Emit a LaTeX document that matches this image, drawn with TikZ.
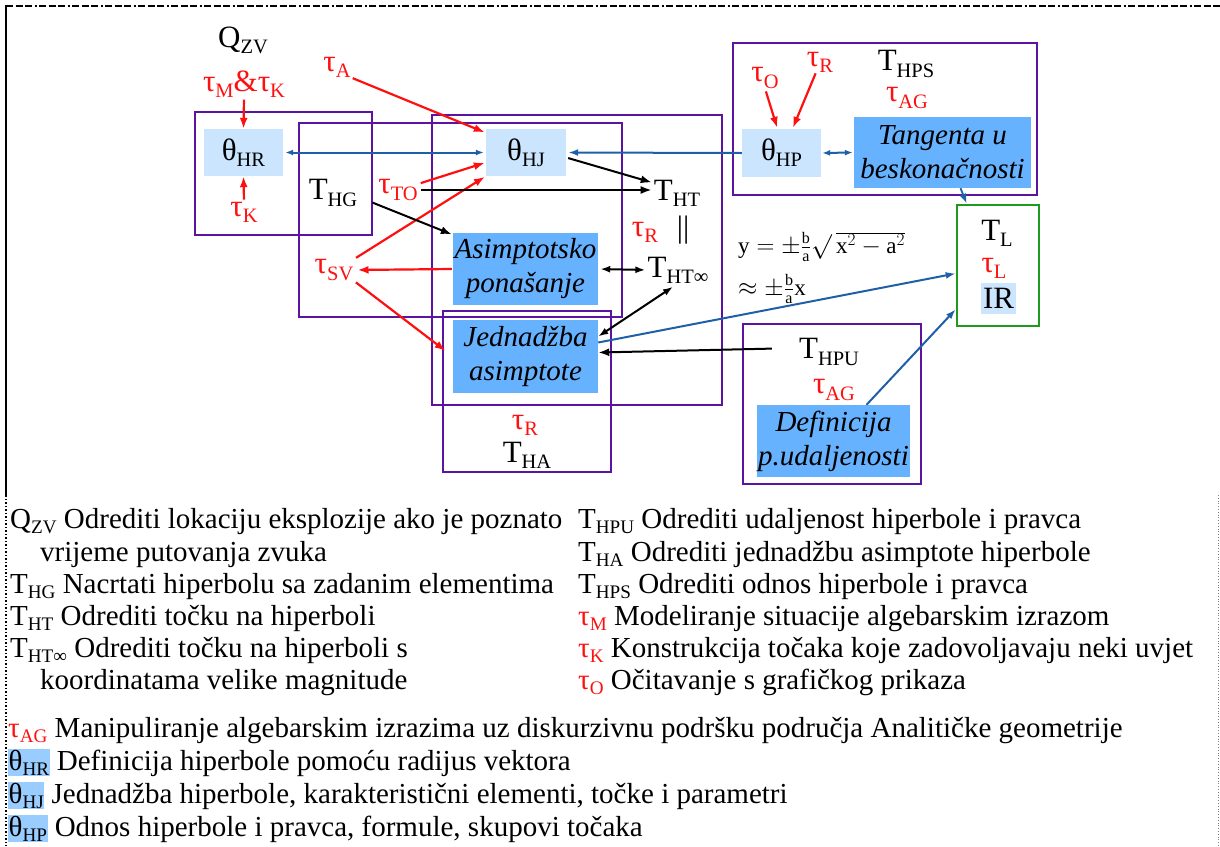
\documentclass[tikz,border=0pt]{standalone}
\usepackage{fontspec}
\setmainfont{Liberation Serif}
\usetikzlibrary{arrows.meta}
\definecolor{pur}{HTML}{5A14A0}
\definecolor{rd}{HTML}{FF1010}
\definecolor{bl}{HTML}{1F5FA8}
\definecolor{lfill}{HTML}{CCE5FF}
\definecolor{dfill}{HTML}{66B2FF}
\definecolor{grn}{HTML}{1E9A1E}
\definecolor{lgfill}{HTML}{99CCFF}
\newcommand{\lo}[1]{\raisebox{-0.2em}{\scalebox{0.66}{#1}}}
\tikzset{
 lbl/.style={inner sep=0pt, font=\fontsize{31}{33}\selectfont},
 rlbl/.style={lbl, text=rd},
 pbox/.style={draw=pur, line width=2.6pt},
 lf/.style={fill=lfill, inner sep=0pt, font=\fontsize{31}{33}\selectfont},
 df/.style={fill=dfill, inner sep=0pt, align=center, font=\fontsize{29}{34}\selectfont\itshape},
 rarr/.style={draw=rd, line width=2.2pt, -{Latex[length=11pt,width=8pt]}},
 barr/.style={draw=bl, line width=2pt, -{Latex[length=10pt,width=7pt]}},
 bl2/.style={draw=bl, line width=2pt, {Latex[length=8pt,width=6pt]}-{Latex[length=8pt,width=6pt]}},
 karr/.style={draw=black, line width=2pt, -{Latex[length=11pt,width=8pt]}},
 kar2/.style={draw=black, line width=2pt, {Latex[length=10pt,width=7pt]}-{Latex[length=10pt,width=7pt]}},
 leg/.style={inner sep=0pt, anchor=base west, font=\fontsize{29}{31}\selectfont},
 fml/.style={inner sep=0pt, anchor=west, font=\fontsize{23}{25}\selectfont},
}
\begin{document}
\begin{tikzpicture}[x=1pt,y=-1pt]
\useasboundingbox (0,0) rectangle (1220,846);
% frame
\draw[line width=2.2pt, dash pattern=on 7pt off 2.5pt on 7pt off 2.5pt on 7pt off 2.5pt on 2pt off 2.5pt] (6,6) -- (1220,6);
\draw[line width=2.8pt] (6,5) -- (6,495);
\draw[line width=1.5pt, dotted] (6,495) -- (6,846);
\draw[line width=0.8pt, dotted, gray] (1218,495) -- (1218,846);
% purple boxes
\draw[pbox] (195,112) rectangle (372,235);
\draw[pbox] (299,123) rectangle (622,317);
\draw[pbox] (432,115) rectangle (722,405);
\draw[pbox] (443,311) rectangle (611,472);
\draw[pbox] (733,43) rectangle (1037,195);
\draw[pbox] (743,324) rectangle (921,484);
% filled nodes
\node[lf, minimum width=79pt, minimum height=47pt] (thr) at (243.5,152.5) {θ\lo{HR}};
\node[lf, minimum width=80pt, minimum height=47pt] (thj) at (526,152.5) {θ\lo{HJ}};
\node[lf, minimum width=79pt, minimum height=48pt] (thp) at (781.5,153) {θ\lo{HP}};
\node[df, minimum width=177pt, minimum height=71pt] (tang) at (942.5,152.5) {Tangenta u\\beskonačnosti};
\node[df, minimum width=145pt, minimum height=72pt] (asim) at (525.5,269) {Asimptotsko\\ponašanje};
\node[df, minimum width=145pt, minimum height=73pt] (jedn) at (525.5,356.5) {Jednadžba\\asimptote};
\node[df, minimum width=153pt, minimum height=72pt] (defi) at (833.5,441) {Definicija\\p.udaljenosti};
\node[draw=grn, line width=2.6pt, minimum width=82pt, minimum height=121pt, inner sep=0pt] (tl) at (998,265.5) {};
\node[lf, minimum width=35pt, minimum height=31pt] (ir) at (998.5,298.5) {IR};
% labels
\node[lbl] (qzv) at (243,40) {Q\lo{ZV}};
\node[rlbl] (tmk) at (244,84) {τ\lo{M}\&τ\lo{K}};
\node[rlbl] (tk1) at (244,212) {τ\lo{K}};
\node[rlbl] (ta) at (337,67) {τ\lo{A}};
\node[lbl] (thg) at (333,193) {T\lo{HG}};
\node[rlbl] (tto) at (398,190) {τ\lo{TO}};
\node[rlbl] (tsv) at (334,270) {τ\lo{SV}};
\node[lbl] (tht) at (677,193) {T\lo{HT}};
\node[rlbl] (tr1) at (645,232) {τ\lo{R}};
\node[lbl] (par) at (683,230) {||};
\node[lbl] (thtinf) at (678,270) {T\lo{HT∞}};
\node[lbl] (thps) at (906,64) {T\lo{HPS}};
\node[rlbl] (tag1) at (907,98) {τ\lo{AG}};
\node[rlbl] (to) at (765,78) {τ\lo{O}};
\node[rlbl] (tr2) at (820,62) {τ\lo{R}};
\node[lbl] (tlt) at (997,233) {T\lo{L}};
\node[rlbl] (tll) at (994,268) {τ\lo{L}};
\node[lbl] (thpu) at (829,352) {T\lo{HPU}};
\node[rlbl] (tag2) at (834,390) {τ\lo{AG}};
\node[rlbl] (tr3) at (525,425) {τ\lo{R}};
\node[lbl] (tha) at (527,455) {T\lo{HA}};
\node[fml] (f1) at (738,247) {$\mathrm{y}=\pm\frac{\mathrm{b}}{\mathrm{a}}\surd\,\overline{\mathrm{x}^2-\mathrm{a}^2}$};
\node[fml] (f2) at (738,289) {$\approx\pm\frac{\mathrm{b}}{\mathrm{a}}\mathrm{x}$};
% red arrows
\draw[rarr, shorten <=2pt] (tmk.south) -- (thr.north);
\draw[rarr, shorten <=2pt] (tk1.north) -- (thr.south);
\draw[rarr, shorten <=2pt, shorten >=1pt] (ta.south east) -- ([yshift=-4pt]thj.north west);
\draw[rarr, shorten <=3pt, shorten >=1pt] ([yshift=6pt]tto.east) -- ([yshift=-10pt]thj.west);
\draw[rarr, shorten <=3pt, shorten >=1pt] (tsv.north east) -- (thj.south west);
\draw[rarr, shorten <=1pt, shorten >=4pt] (asim.west) -- (tsv.east);
\draw[rarr, shorten <=3pt, shorten >=9pt] (tsv.south east) -- (jedn.west);
\draw[rarr, shorten <=3pt, shorten >=1pt] (to.south) -- ([xshift=-4pt]thp.north);
\draw[rarr, shorten <=1pt, shorten >=1pt] ([xshift=-4pt]tr2.south) -- ([xshift=11pt]thp.north);
% blue arrows
\draw[bl2, shorten <=2pt, shorten >=2pt] (thr.east) -- (thj.west);
\draw[barr, shorten >=2pt] (thp.west) -- (thj.east);
\draw[bl2, shorten <=1pt, shorten >=1pt] (thp.east) -- (tang.west);
\draw[barr, line width=1.8pt] ([xshift=18pt]tang.south) -- ([xshift=11pt]tl.north west);
\draw[barr] ([yshift=14pt]jedn.east) -- ([yshift=-8pt]tl.west);
\draw[barr] ([xshift=33pt]defi.north) -- ([yshift=18pt]tl.south west);
% black arrows
\draw[karr, shorten >=2pt, shorten <=2pt] ([yshift=-5pt]thj.east) -- ([yshift=10pt]tht.west);
\draw[karr, shorten <=3pt, shorten >=2pt] (tto.east) -- (tto.east -| tht.west);
\draw[karr, shorten >=1pt] ([xshift=15pt, yshift=4pt]thg.south east) -- ([yshift=-2pt]asim.north west);
\draw[kar2, shorten <=2pt, shorten >=2pt] (asim.east) -- (thtinf.west);
\draw[kar2, shorten >=6pt] ([yshift=20pt]jedn.east) -- (thtinf.south);
\draw[karr, shorten <=27pt] ([yshift=4pt]thpu.west) -- ([yshift=4pt]jedn.east);
% legend
\node[leg] (l1) at (10,528) {Q\lo{ZV} Odrediti lokaciju eksplozije ako je poznato};
\node[leg] (l2) at (40,561) {vrijeme putovanja zvuka};
\node[leg] (l3) at (10,593) {T\lo{HG} Nacrtati hiperbolu sa zadanim elementima};
\node[leg] (l4) at (10,625) {T\lo{HT} Odrediti točku na hiperboli};
\node[leg] (l5) at (10,657) {T\lo{HT∞} Odrediti točku na hiperboli s};
\node[leg] (l6) at (40,689) {koordinatama velike magnitude};
\node[leg] (r1) at (578,528) {T\lo{HPU} Odrediti udaljenost hiperbole i pravca};
\node[leg] (r2) at (578,561) {T\lo{HA} Odrediti jednadžbu asimptote hiperbole};
\node[leg] (r3) at (578,593) {T\lo{HPS} Odrediti odnos hiperbole i pravca};
\node[leg] (r4) at (578,625) {{\color{rd}τ\lo{M}} Modeliranje situacije algebarskim izrazom};
\node[leg] (r5) at (578,657) {{\color{rd}τ\lo{K}} Konstrukcija točaka koje zadovoljavaju neki uvjet};
\node[leg] (r6) at (578,689) {{\color{rd}τ\lo{O}} Očitavanje s grafičkog prikaza};
\node[leg] (b1) at (8,737) {{\color{rd}τ\lo{AG}} Manipuliranje algebarskim izrazima uz diskurzivnu podršku područja Analitičke geometrije};
\node[leg] (b2) at (8,770) {\setlength\fboxsep{0.5pt}\colorbox{lgfill}{θ\lo{HR}} Definicija hiperbole pomoću radijus vektora};
\node[leg] (b3) at (8,803) {\setlength\fboxsep{0.5pt}\colorbox{lgfill}{θ\lo{HJ}} Jednadžba hiperbole, karakteristični elementi, točke i parametri};
\node[leg] (b4) at (8,836) {\setlength\fboxsep{0.5pt}\colorbox{lgfill}{θ\lo{HP}} Odnos hiperbole i pravca, formule, skupovi točaka};
\end{tikzpicture}
\end{document}
